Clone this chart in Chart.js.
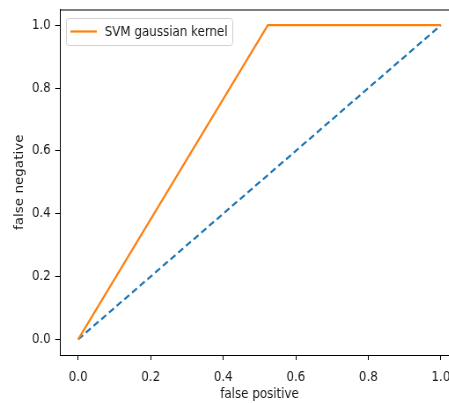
<!DOCTYPE html>
<html>
<head>
<meta charset="utf-8">
<script src="https://cdn.jsdelivr.net/npm/chart.js@4"></script>
<style>
  html, body { margin: 0; padding: 0; background: #fff; overflow: hidden; }
  #wrap { width: 449px; height: 403px; overflow: hidden; position: relative; background: #fff; }
  /* the reference figure is squeezed horizontally, so draw wide and squeeze */
  #roc { position: absolute; left: 0; top: 0; transform: scaleX(0.88); transform-origin: 0 0; }
</style>
</head>
<body>
<div id="wrap"><canvas id="roc" width="536" height="403"></canvas></div>
<script>
// roc curve data
const svmX = [0.0, 0.523, 1.0];
const svmY = [0.0, 1.0, 1.0];
const diagX = [0.0, 1.0];
const diagY = [0.0, 1.0];
const tickValues = [0.0, 0.2, 0.4, 0.6, 0.8, 1.0];
const seriesLabel = 'SVM gaussian kernel';

const FONT = 'DejaVu Sans';
const FSIZE = 13.5;

function toPoints(xs, ys) {
  return xs.map((x, i) => ({ x, y: ys[i] }));
}

// top spine plus a matplotlib style legend inside the plot
// (right spine falls outside the cropped figure)
const framePlugin = {
  id: 'frame',
  afterDatasetsDraw(chart) {
    const { ctx, chartArea: a } = chart;
    ctx.save();
    ctx.strokeStyle = '#000';
    ctx.lineWidth = 1;
    ctx.beginPath();
    ctx.moveTo(a.left, a.top + 0.5);
    ctx.lineTo(a.right, a.top + 0.5);
    ctx.stroke();

    // legend box
    const bx = 75, by = 18, bw = 189, bh = 27;
    ctx.fillStyle = 'rgba(255,255,255,0.8)';
    ctx.strokeStyle = '#d0d0d0';
    ctx.beginPath();
    ctx.roundRect(bx + 0.5, by + 0.5, bw, bh, 3);
    ctx.fill();
    ctx.stroke();

    const ds = chart.data.datasets[0];
    ctx.strokeStyle = ds.borderColor;
    ctx.lineWidth = 2.2;
    ctx.beginPath();
    ctx.moveTo(bx + 5, by + 13.5);
    ctx.lineTo(bx + 35, by + 13.5);
    ctx.stroke();

    ctx.fillStyle = '#1a1a1a';
    ctx.font = FSIZE + 'px "' + FONT + '"';
    ctx.textBaseline = 'middle';
    ctx.fillText(ds.label, bx + 44, by + 14);
    ctx.restore();
  }
};

const ctx = document.getElementById('roc').getContext('2d');
new Chart(ctx, {
  type: 'scatter',
  data: {
    datasets: [
      {
        label: seriesLabel,
        data: toPoints(svmX, svmY),
        showLine: true,
        borderColor: '#ff7f0e',
        borderWidth: 2.2,
        pointRadius: 0,
        order: 1
      },
      {
        label: 'diagonal',
        data: toPoints(diagX, diagY),
        showLine: true,
        borderColor: '#1f77b4',
        borderWidth: 2.2,
        borderDash: [7, 4],
        pointRadius: 0,
        order: 2
      }
    ]
  },
  options: {
    responsive: false,
    animation: false,
    layout: { padding: { left: 0, right: 14.4, top: 9.5, bottom: 0 } },
    plugins: {
      legend: { display: false },
      tooltip: { enabled: false }
    },
    scales: {
      x: {
        type: 'linear',
        min: -0.05,
        max: 1.05,
        afterBuildTicks: s => { s.ticks = tickValues.map(v => ({ value: v })); },
        afterFit: s => { s.height = 48; s.paddingLeft = 0; s.paddingRight = 0; },
        grid: { display: true, drawOnChartArea: false, drawTicks: true, tickLength: 5, color: '#000' },
        border: { display: true, color: '#000', width: 1 },
        ticks: {
          color: '#1a1a1a',
          padding: 9,
          font: { family: FONT, size: FSIZE },
          callback: v => v.toFixed(1)
        },
        title: {
          display: true,
          text: 'false positive',
          color: '#1a1a1a',
          font: { family: FONT, size: FSIZE },
          padding: { top: 0, bottom: 0 }
        }
      },
      y: {
        type: 'linear',
        min: -0.05,
        max: 1.05,
        afterBuildTicks: s => { s.ticks = tickValues.map(v => ({ value: v })); },
        afterFit: s => { s.width = 68.2; s.paddingTop = 0; s.paddingBottom = 0; },
        grid: { display: true, drawOnChartArea: false, drawTicks: true, tickLength: 5.5, color: '#000' },
        border: { display: true, color: '#000', width: 1 },
        ticks: {
          color: '#1a1a1a',
          padding: 5,
          font: { family: FONT, size: FSIZE },
          callback: v => v.toFixed(1)
        },
        title: {
          display: true,
          text: 'false negative',
          color: '#1a1a1a',
          font: { family: FONT, size: FSIZE },
          padding: { top: 14.6, bottom: 0 }
        }
      }
    }
  },
  plugins: [framePlugin]
});
</script>
</body>
</html>
